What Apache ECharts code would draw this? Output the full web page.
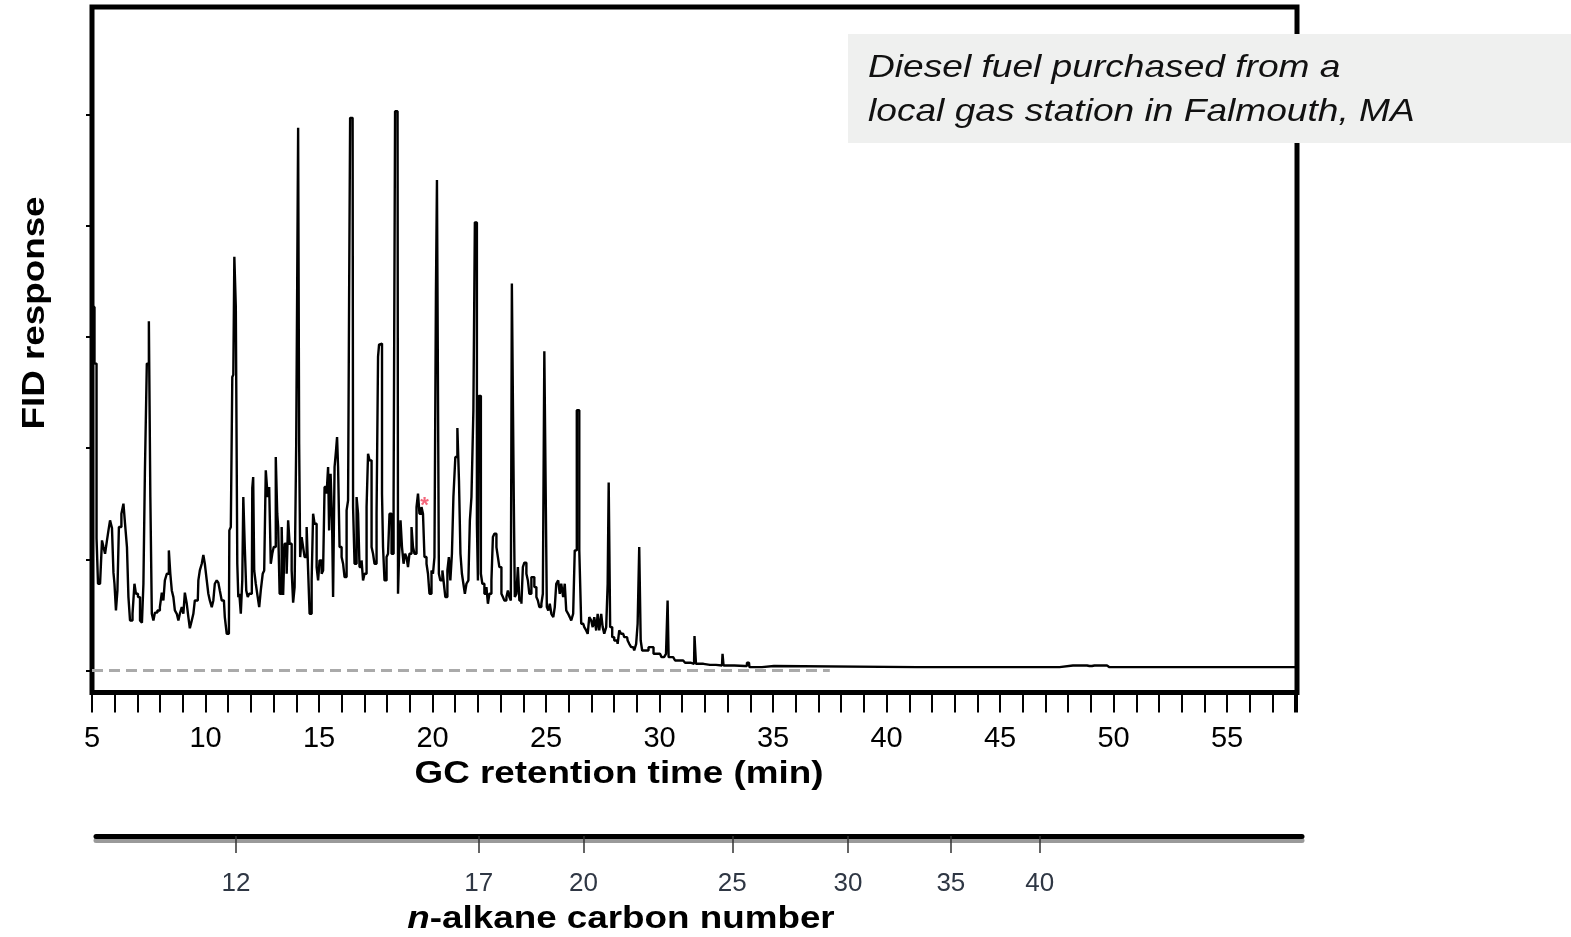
<!DOCTYPE html>
<html>
<head>
<meta charset="utf-8">
<title>Diesel fuel GC-FID</title>
<script src="https://cdn.jsdelivr.net/npm/echarts@6/dist/echarts.min.js"></script>
<style>
  html, body { margin: 0; padding: 0; background: #fff; }
  #chart { width: 1571px; height: 937px; }
</style>
</head>
<body>
<div id="chart"></div>
<script>
// retention time (min), FID response (arbitrary units, 100 per y tick)
const chromatogram = [
  [5.00,117],[5.04,327],[5.09,327],[5.13,276],[5.18,276],[5.22,119],[5.31,78],[5.40,78],[5.48,117],[5.53,111],
  [5.62,105],[5.70,117],[5.75,126],[5.84,135],[5.92,128],[5.97,88],[6.01,78],[6.10,54],[6.14,72],[6.23,129],
  [6.36,141],[6.41,150],[6.50,132],[6.58,111],[6.63,66],[6.72,45],[6.85,51],[6.89,78],[6.98,69],[7.07,66],
  [7.16,45],[7.24,43],[7.29,78],[7.37,178],[7.46,276],[7.55,314],[7.59,156],[7.68,51],[7.73,45],[7.81,52],
  [7.95,54],[8.03,57],[8.12,70],[8.17,63],[8.25,81],[8.34,87],[8.43,108],[8.47,87],[8.56,72],[8.61,66],
  [8.69,54],[8.78,51],[8.83,45],[8.91,51],[9.00,57],[9.05,51],[9.13,70],[9.22,60],[9.27,48],[9.35,38],
  [9.44,45],[9.49,51],[9.57,63],[9.66,63],[9.71,81],[9.79,90],[9.88,96],[9.93,104],[10.01,96],[10.10,81],
  [10.15,69],[10.23,63],[10.32,57],[10.37,63],[10.45,78],[10.54,81],[10.59,79],[10.67,72],[10.76,63],[10.81,63],
  [10.89,48],[10.98,33],[11.03,33],[11.07,126],[11.16,129],[11.20,264],[11.25,266],[11.29,372],[11.38,327],[11.42,96],
  [11.47,66],[11.51,69],[11.60,51],[11.64,81],[11.69,156],[11.77,111],[11.82,72],[11.90,66],[11.95,69],[12.04,69],
  [12.08,164],[12.12,174],[12.17,90],[12.26,78],[12.34,66],[12.39,57],[12.48,72],[12.56,87],[12.61,90],[12.70,180],
  [12.78,156],[12.83,165],[12.92,96],[12.96,105],[13.05,111],[13.14,192],[13.18,141],[13.22,129],[13.31,69],[13.40,129],
  [13.44,68],[13.53,114],[13.62,87],[13.66,135],[13.75,114],[13.84,90],[13.88,61],[13.97,75],[14.02,204],[14.06,351],
  [14.10,488],[14.15,204],[14.19,102],[14.28,120],[14.32,111],[14.41,102],[14.50,129],[14.54,90],[14.63,51],[14.72,81],
  [14.76,141],[14.85,132],[14.94,93],[14.98,81],[15.07,99],[15.16,87],[15.20,90],[15.29,165],[15.38,159],[15.42,183],
  [15.47,126],[15.55,177],[15.60,135],[15.64,66],[15.73,183],[15.77,198],[15.82,210],[15.86,183],[15.95,111],[16.04,102],
  [16.08,96],[16.17,84],[16.26,144],[16.30,153],[16.35,333],[16.39,497],[16.48,497],[16.52,147],[16.61,96],[16.70,156],
  [16.74,141],[16.83,93],[16.92,99],[16.96,81],[17.05,87],[17.14,147],[17.18,195],[17.27,189],[17.36,111],[17.40,105],
  [17.49,96],[17.58,141],[17.62,282],[17.67,293],[17.71,294],[17.75,294],[17.80,159],[17.84,111],[17.93,81],[18.02,102],
  [18.06,105],[18.15,141],[18.24,105],[18.33,153],[18.37,503],[18.46,503],[18.50,69],[18.55,102],[18.63,135],[18.68,111],
  [18.77,96],[18.81,105],[18.90,102],[18.94,93],[19.03,105],[19.12,129],[19.16,111],[19.25,105],[19.34,147],[19.38,159],
  [19.47,141],[19.56,147],[19.60,141],[19.69,102],[19.78,96],[19.82,87],[19.91,69],[20.00,90],[20.04,87],[20.13,102],
  [20.17,339],[20.22,441],[20.26,441],[20.30,87],[20.39,81],[20.48,90],[20.52,78],[20.61,66],[20.70,90],[20.74,102],
  [20.83,81],[20.88,105],[20.96,156],[21.05,192],[21.14,218],[21.19,171],[21.27,105],[21.32,87],[21.40,78],[21.45,69],
  [21.54,78],[21.62,81],[21.67,135],[21.76,156],[21.84,234],[21.89,403],[21.93,403],[21.98,132],[22.02,81],[22.06,247],
  [22.11,247],[22.15,87],[22.24,78],[22.33,69],[22.42,75],[22.46,60],[22.55,69],[22.64,81],[22.68,120],[22.77,123],
  [22.86,111],[22.90,102],[22.99,93],[23.08,69],[23.12,66],[23.21,63],[23.30,66],[23.34,72],[23.43,66],[23.47,63],
  [23.52,348],[23.56,348],[23.60,153],[23.65,66],[23.74,69],[23.78,93],[23.87,63],[23.96,60],[24.00,93],[24.09,97],
  [24.18,87],[24.22,81],[24.31,69],[24.40,84],[24.44,84],[24.53,75],[24.62,66],[24.66,63],[24.75,57],[24.84,60],
  [24.88,69],[24.97,287],[25.01,287],[25.06,57],[25.14,54],[25.19,60],[25.28,51],[25.36,48],[25.41,57],[25.49,78],
  [25.58,81],[25.63,69],[25.71,78],[25.80,66],[25.85,78],[25.93,54],[26.02,51],[26.07,48],[26.15,45],[26.24,51],
  [26.29,108],[26.42,234],[26.51,108],[26.59,42],[26.64,42],[26.73,39],[26.81,36],[26.86,33],[26.95,48],[27.03,45],
  [27.08,39],[27.17,48],[27.25,36],[27.30,51],[27.39,36],[27.47,51],[27.52,39],[27.61,33],[27.69,39],[27.74,78],
  [27.78,169],[27.87,39],[27.96,30],[28.05,27],[28.13,27],[28.18,24],[28.27,36],[28.35,33],[28.40,33],[28.49,30],
  [28.57,30],[28.62,27],[28.71,24],[28.79,21],[28.84,21],[28.93,18],[29.01,24],[29.06,42],[29.15,111],[29.19,27],
  [29.28,18],[29.45,18],[29.58,21],[29.67,21],[29.80,15],[30.02,15],[30.16,12],[30.24,12],[30.33,15],[30.38,63],
  [30.42,12],[30.60,12],[30.77,9],[31.04,9],[31.21,7],[31.52,6],[31.56,31],[31.65,6],[32.22,5],[32.75,4.5],
  [32.80,15],[32.84,4.5],[33.76,4],[33.94,7],[33.98,3],[35.04,4],[35.08,3],[47.62,3],[47.70,4.5],[48.72,4.5],
  [48.94,4],[49.16,4.5],[49.60,4.5],[49.82,3],[58.08,3]
];

// dashed zero line of the blank run
const baselineTime = [5, 37.5];
const baselineResponse = [0, 0];

// red asterisk marker
const markerTime = [19.56];
const markerResponse = [153];

const timeLabels = [5, 10, 15, 20, 25, 30, 35, 40, 45, 50, 55];
const responseTicks = [0, 100, 200, 300, 400, 500];

// n-alkane carbon number scale and where each elutes (min)
const carbonNumbers = [12, 17, 20, 25, 30, 35, 40];
const carbonTimes = [11.37, 22.06, 26.68, 33.23, 38.33, 42.86, 46.78];

const FONT = '"Liberation Sans", Arial, sans-serif';

let chart = echarts.init(document.getElementById('chart'), null, { renderer: 'canvas' });

let option = {
  animation: false,
  backgroundColor: '#fff',
  grid: [
    {
      left: 92, top: 7, right: 274, bottom: 244.5,
      show: true,
      borderColor: '#000',
      borderWidth: 5,
      backgroundColor: 'transparent'
    },
    {
      left: 96, top: 835, right: 269, height: 1
    }
  ],
  xAxis: [
    {
      gridIndex: 0,
      type: 'value',
      min: 5,
      max: 58.08,
      interval: 1,
      splitLine: { show: false },
      axisLine: { show: false, onZero: false },
      axisTick: {
        show: true,
        length: 20,
        lineStyle: { color: '#000', width: 2 }
      },
      axisLabel: {
        customValues: timeLabels,
        margin: 32,
        color: '#000',
        fontFamily: FONT,
        fontSize: 29
      }
    },
    {
      gridIndex: 1,
      type: 'value',
      min: 5.2,
      max: 58.33,
      position: 'bottom',
      splitLine: { show: false },
      axisLine: {
        show: true,
        onZero: false,
        lineStyle: {
          color: '#000',
          width: 5,
          shadowColor: '#9a9a9a',
          shadowOffsetY: 4,
          shadowBlur: 0
        }
      },
      axisTick: {
        show: true,
        customValues: carbonTimes,
        length: 17,
        lineStyle: { color: '#333', width: 1.5 }
      },
      axisLabel: {
        customValues: carbonTimes,
        margin: 35,
        color: '#2f3744',
        fontFamily: FONT,
        fontSize: 26,
        formatter: function (v) {
          let i = carbonTimes.indexOf(v);
          return i >= 0 ? String(carbonNumbers[i]) : '';
        }
      }
    }
  ],
  yAxis: [
    {
      gridIndex: 0,
      type: 'value',
      min: -19.8,
      max: 596.7,
      splitLine: { show: false },
      axisLine: { show: false, onZero: false },
      axisTick: {
        show: true,
        customValues: responseTicks,
        length: 6,
        lineStyle: { color: '#000', width: 2 }
      },
      axisLabel: { show: false }
    },
    {
      gridIndex: 1,
      type: 'value',
      show: false
    }
  ],
  series: [
    {
      name: 'blank',
      type: 'line',
      xAxisIndex: 0,
      yAxisIndex: 0,
      data: baselineTime.map((t, i) => [t, baselineResponse[i]]),
      showSymbol: false,
      lineStyle: { color: '#aaaaaa', width: 3, type: [11, 6] },
      z: 2
    },
    {
      name: 'diesel',
      type: 'line',
      xAxisIndex: 0,
      yAxisIndex: 0,
      data: chromatogram,
      step: 'middle',
      showSymbol: false,
      clip: true,
      lineStyle: { color: '#000', width: 2.4 },
      z: 3
    },
    {
      name: 'marker',
      type: 'scatter',
      xAxisIndex: 0,
      yAxisIndex: 0,
      data: markerTime.map((t, i) => [t, markerResponse[i]]),
      symbolSize: 0,
      label: {
        show: true,
        position: 'inside',
        formatter: '*',
        color: '#f0405a',
        fontFamily: FONT,
        fontWeight: 'bold',
        fontSize: 22,
        offset: [2, 6]
      },
      z: 4
    }
  ],
  graphic: [
    {
      type: 'rect',
      shape: { x: 848, y: 34, width: 723, height: 109 },
      style: { fill: '#eff0ef' },
      z: 100
    },
    {
      type: 'text',
      x: 868, y: 68,
      scaleX: 1.16,
      style: {
        text: 'Diesel fuel purchased from a',
        fontFamily: FONT, fontStyle: 'italic', fontSize: 32,
        fill: '#111', textAlign: 'left', textVerticalAlign: 'middle'
      },
      z: 101
    },
    {
      type: 'text',
      x: 868, y: 112,
      scaleX: 1.16,
      style: {
        text: 'local gas station in Falmouth, MA',
        fontFamily: FONT, fontStyle: 'italic', fontSize: 32,
        fill: '#111', textAlign: 'left', textVerticalAlign: 'middle'
      },
      z: 101
    },
    {
      type: 'text',
      x: 619, y: 774,
      scaleX: 1.15,
      style: {
        text: 'GC retention time (min)',
        fontFamily: FONT, fontWeight: 'bold', fontSize: 32,
        fill: '#000', textAlign: 'center', textVerticalAlign: 'middle'
      }
    },
    {
      type: 'text',
      x: 35, y: 313,
      rotation: Math.PI / 2,
      scaleX: 1.15,
      style: {
        text: 'FID response',
        fontFamily: FONT, fontWeight: 'bold', fontSize: 32,
        fill: '#000', textAlign: 'center', textVerticalAlign: 'middle'
      }
    },
    {
      type: 'text',
      x: 621, y: 919,
      scaleX: 1.15,
      style: {
        text: '{i|n}-alkane carbon number',
        fontFamily: FONT, fontWeight: 'bold', fontSize: 32,
        fill: '#000', textAlign: 'center', textVerticalAlign: 'middle',
        rich: {
          i: { fontFamily: FONT, fontWeight: 'bold', fontStyle: 'italic', fontSize: 32, fill: '#000' }
        }
      }
    }
  ]
};

chart.setOption(option);
window.addEventListener('resize', function () {
  chart.resize();
});
</script>
</body>
</html>
